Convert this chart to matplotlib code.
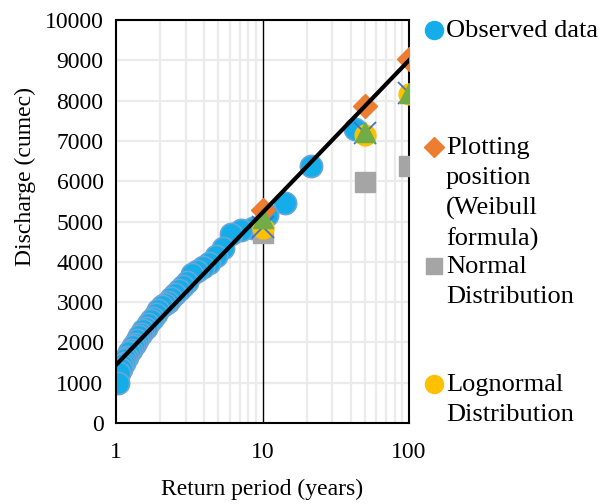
import matplotlib
matplotlib.use("Agg")
import matplotlib.pyplot as plt
from matplotlib.lines import Line2D
from matplotlib.ticker import FixedLocator, NullFormatter

plt.rcParams['font.family'] = ['Liberation Serif', 'DejaVu Serif']

# observed annual peaks, return period by Weibull rank (years)
obs_T = [43, 21.5, 14.33, 10.75, 8.6, 7.17, 6.14, 5.375, 4.78, 4.3, 3.91, 3.58,
         3.31, 3.07, 2.87, 2.69, 2.53, 2.39, 2.26, 2.15, 2.05, 1.95, 1.87, 1.79,
         1.72, 1.65, 1.59, 1.54, 1.48, 1.43, 1.39, 1.34, 1.30, 1.26, 1.23, 1.19,
         1.16, 1.13, 1.10, 1.075, 1.05, 1.024]
obs_Q = [7300, 6380, 5470, 5150, 4850, 4780, 4700, 4350, 4150, 3980, 3880, 3780,
         3700, 3500, 3400, 3300, 3200, 3100, 3000, 2950, 2900, 2800, 2700, 2600,
         2550, 2450, 2350, 2300, 2200, 2150, 2050, 1950, 1900, 1800, 1750, 1650,
         1600, 1500, 1450, 1350, 1250, 1000]

design_T = [10, 50, 100]
weibull_Q = [5280, 7870, 9030]
normal_Q = [4720, 5980, 6380]
lognormal_Q = [4850, 7150, 8170]
xmark_Q = [4870, 7200, 8200]
triangle_Q = [5090, 7220, 8190]

trend_T = [1, 100]
trend_Q = [1440, 9000]

fig = plt.figure(figsize=(6.03, 5.04), dpi=100)
ax = fig.add_axes([116/603, 1 - 423/504, (409-116)/603, (423-20)/504])

ax.set_xscale('log')
ax.set_xlim(1, 100)
ax.set_ylim(0, 10000)

# gridlines
for y in range(1000, 10001, 1000):
    ax.axhline(y, color='#ebebeb', lw=1.6, zorder=0)
minor = [2, 3, 4, 5, 6, 7, 8, 9, 20, 30, 40, 50, 60, 70, 80, 90]
for x in minor:
    ax.axvline(x, color='#ebebeb', lw=1.6, zorder=0)
ax.axvline(10, color='black', lw=1.0, zorder=0.5)

ax.plot(obs_T, obs_Q, 'o', ms=16, mfc='#14ade9', mec='#6aa6d8', mew=1.2, zorder=2)
ax.plot(design_T, weibull_Q, 'D', ms=12, mfc='#ed7d31', mec='#ed7d31', zorder=3)
ax.plot(design_T, normal_Q, 's', ms=15, mfc='#a5a5a5', mec='#a5a5a5', zorder=3)
ax.plot(design_T, lognormal_Q, 'o', ms=15, mfc='#ffc000', mec='#ffc000', zorder=4)
ax.plot(design_T, xmark_Q, 'x', ms=16, mec='#4472c4', mew=1.3, zorder=5)
ax.plot(design_T, triangle_Q, '^', ms=15, mfc='#70ad47', mec='#70ad47', zorder=6)
ax.plot(trend_T, trend_Q, color='black', lw=3, zorder=7)

ax.xaxis.set_major_locator(FixedLocator([1, 10, 100]))
ax.set_xticklabels(['1', '10', '100'])
ax.xaxis.set_minor_formatter(NullFormatter())
ax.set_yticks(range(0, 10001, 1000))
ax.tick_params(axis='both', which='both', length=0, labelsize=17)
ax.tick_params(axis='x', pad=14)
ax.tick_params(axis='y', pad=9)
for s in ax.spines.values():
    s.set_linewidth(1.5)

fig.text(262/603, 1 - 489/504, 'Return period (years)', ha='center', va='center', fontsize=17)
fig.text(25/603, 1 - 176/504, 'Discharge (cumec)', ha='center', va='center',
         rotation=90, fontsize=17)

# legend drawn by hand to keep the blank slots of the original
leg_items = [
    ('o', '#14ade9', 13, 30, 'Observed data'),
    ('D', '#ed7d31', 10, 147, 'Plotting\nposition\n(Weibull\nformula)'),
    ('s', '#a5a5a5', 12, 266, 'Normal\nDistribution'),
    ('o', '#ffc000', 13, 384, 'Lognormal\nDistribution'),
]
for mk, col, ms, ypx, lab in leg_items:
    fig.add_artist(Line2D([434/603], [1 - ypx/504], marker=mk, ms=ms, mfc=col,
                          mec=col, ls='none', transform=fig.transFigure))
    fig.text(446/603, 1 - (ypx - 10)/504, lab, ha='left', va='top',
             fontsize=19, linespacing=1.45)

fig.savefig('out.png', dpi=100)
